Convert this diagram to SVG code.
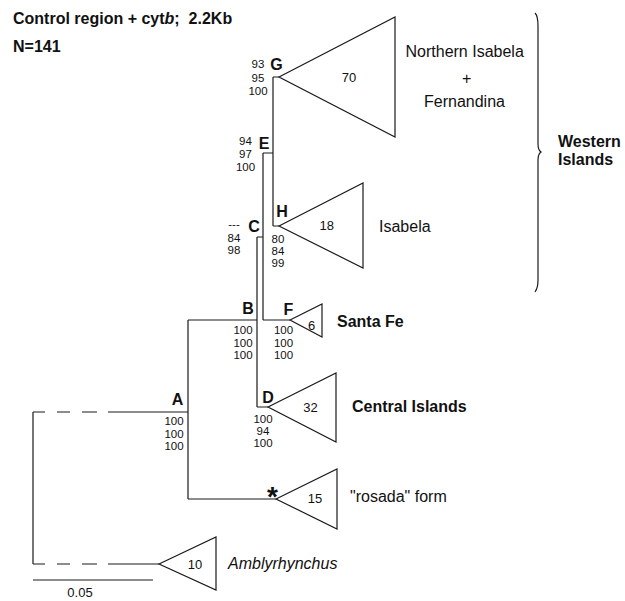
<svg xmlns="http://www.w3.org/2000/svg" width="625" height="601" viewBox="0 0 625 601">
<style>
text{font-family:"Liberation Sans",Arial,sans-serif;fill:#111}
.t{font-size:16px;font-weight:bold}
.n{font-size:16px;font-weight:bold;text-anchor:middle}
.s{font-size:11.5px;text-anchor:middle}
.c{font-size:13px;text-anchor:middle}
.l{font-size:16px}
.lb{font-size:16px;font-weight:bold}
.ln{fill:none;stroke:#1a1a1a;stroke-width:1.2}
.tri{fill:#fff;stroke:#1a1a1a;stroke-width:1.2;stroke-linejoin:miter}
</style>
<rect width="625" height="601" fill="#fff"/>
<text class="t" x="13" y="23.5" xml:space="preserve">Control region + cyt<tspan font-style="italic">b</tspan>;  2.2Kb</text>
<text class="t" x="13" y="52">N=141</text>

<g id="connectors" class="ln">
<path d="M273 77H279M273 77V226M273 226H279M263 153H273M263 153V320M263 320H290M257 237H263M257 237V407M257 407H268M188 320H257M188 320V499M188 499H276"/>
<path d="M33 412H45M57 412H70M82 412H97M108 412H188M33 412V564M33 564H45M57 564H70M82 564H97M108 564H159"/>
</g>

<g id="nodeG">
<polygon class="tri" points="279,77 395,17 395,137"/>
<text class="c" x="349" y="82">70</text>
<text class="n" x="276.5" y="70">G</text>
<text class="s" x="258" y="68">93</text>
<text class="s" x="258" y="81.5">95</text>
<text class="s" x="258" y="94.5">100</text>
<text class="l" x="405.5" y="56.5">Northern Isabela</text>
<text class="l" x="466.7" y="83.5" text-anchor="middle" font-size="18">+</text>
<text class="l" x="424" y="107">Fernandina</text>
</g>

<g id="nodeE">
<text class="n" x="264" y="149">E</text>
<text class="s" x="245.5" y="145">94</text>
<text class="s" x="245.5" y="158">97</text>
<text class="s" x="245.5" y="171">100</text>
</g>

<g id="nodeH">
<polygon class="tri" points="279,226 363,183 363,268"/>
<text class="c" x="326.7" y="230">18</text>
<text class="n" x="282" y="217">H</text>
<text class="s" x="278" y="243">80</text>
<text class="s" x="278" y="255">84</text>
<text class="s" x="278" y="267">99</text>
<text class="l" x="379" y="231.5">Isabela</text>
</g>

<g id="nodeC">
<text class="n" x="254" y="232">C</text>
<text class="s" x="234" y="228">---</text>
<text class="s" x="234" y="242">84</text>
<text class="s" x="234" y="254">98</text>
</g>

<g id="nodeB">
<text class="n" x="248" y="314">B</text>
<text class="s" x="243" y="334">100</text>
<text class="s" x="243" y="346.5">100</text>
<text class="s" x="243" y="359">100</text>
</g>

<g id="nodeF">
<polygon class="tri" points="290,320 322,304 322,337"/>
<text class="c" x="311.5" y="329.5">6</text>
<text class="n" x="288.5" y="315">F</text>
<text class="s" x="283.5" y="334">100</text>
<text class="s" x="283.5" y="346.5">100</text>
<text class="s" x="283.5" y="359">100</text>
<text class="lb" x="337" y="326.7">Santa Fe</text>
</g>

<g id="nodeD">
<polygon class="tri" points="268,407 336,373 336,442"/>
<text class="c" x="310.5" y="411.5">32</text>
<text class="n" x="268" y="403">D</text>
<text class="s" x="263" y="423">100</text>
<text class="s" x="263" y="435">94</text>
<text class="s" x="263" y="447">100</text>
<text class="lb" x="352" y="411.7" font-size="15">Central Islands</text>
</g>

<g id="nodeA">
<text class="n" x="177.5" y="405">A</text>
<text class="s" x="174" y="425">100</text>
<text class="s" x="174" y="437.5">100</text>
<text class="s" x="174" y="450">100</text>
</g>

<g id="nodeRosada">
<polygon class="tri" points="276,499 337,469 337,529"/>
<text class="c" x="315" y="503">15</text>
<text x="272.5" y="506" text-anchor="middle" font-size="28" font-weight="bold">*</text>
<text class="l" x="350" y="502" font-size="15.5">"rosada" form</text>
</g>

<g id="nodeAmblyrhynchus">
<polygon class="tri" points="159,564 216,537 216,590"/>
<text class="c" x="195" y="569">10</text>
<text class="l" x="228" y="569" font-style="italic">Amblyrhynchus</text>
</g>

<g id="brace">
<path class="ln" d="M535 13Q538 16 538 26V144Q538 150 541 152Q538 154 538 160V280Q538 288 535 292"/>
<text class="lb" x="558" y="146.5">Western</text>
<text class="lb" x="558" y="165">Islands</text>
</g>

<g id="scale">
<path class="ln" d="M33 580H153"/>
<text class="c" x="80" y="597">0.05</text>
</g>
</svg>
